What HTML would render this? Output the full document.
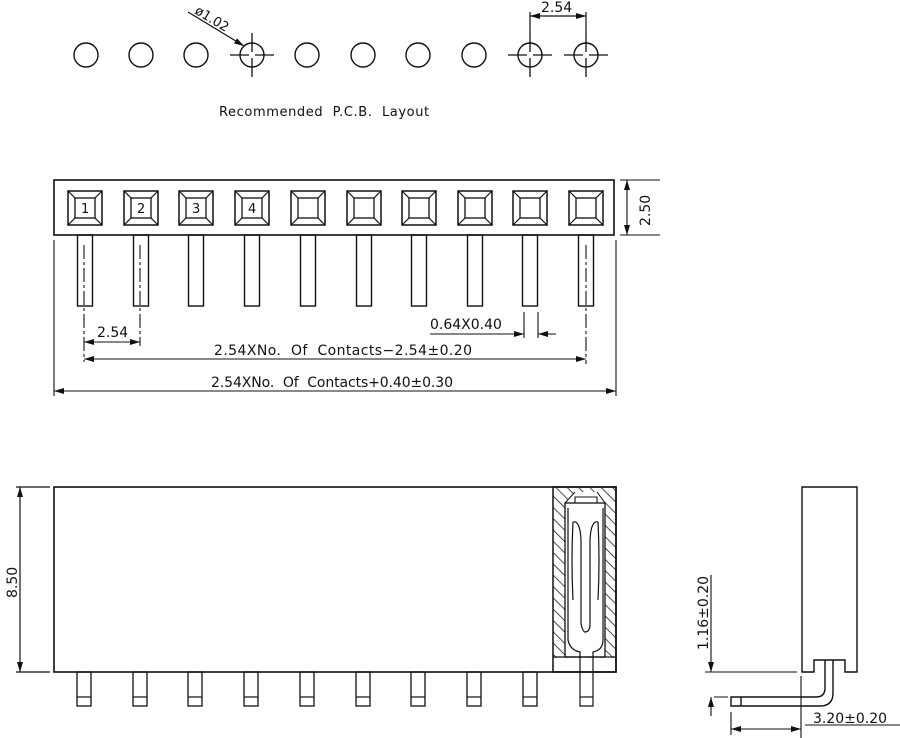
<!DOCTYPE html>
<html><head><style>
html,body{margin:0;padding:0;background:#fff;width:900px;height:738px;overflow:hidden}
svg{display:block}
text{font-family:"DejaVu Sans","Liberation Sans",sans-serif;fill:#111;white-space:pre}
</style></head><body>
<svg width="900" height="738" viewBox="0 0 900 738" xmlns="http://www.w3.org/2000/svg" xml:space="preserve">
<defs>
<pattern id="h" patternUnits="userSpaceOnUse" width="8" height="8" patternTransform="rotate(-45)">
<line x1="0" y1="0" x2="0" y2="8" stroke="#111" stroke-width="1.5"/>
</pattern>
<g id="pad">
<rect x="-17" y="-17" width="34" height="34" fill="none" stroke="#111" stroke-width="1.5"/>
<rect x="-10" y="-10" width="20" height="20" fill="none" stroke="#111" stroke-width="1.3"/>
<path d="M-17 -17L-10 -10M17 -17L10 -10M-17 17L-10 10M17 17L10 10" stroke="#111" stroke-width="1.2"/>
</g>
<g id="pin"><rect x="-7.5" y="235" width="15" height="71" fill="none" stroke="#111" stroke-width="1.4"/></g>
<g id="bpin"><rect x="-7" y="672" width="14" height="34" fill="none" stroke="#111" stroke-width="1.3"/><line x1="-7" x2="7" y1="697" y2="697" stroke="#111" stroke-width="1.2"/></g>
<g id="cross"><circle r="12" fill="none" stroke="#111" stroke-width="1.4"/><path d="M-22 0H-3M3 0H22M0 -22V-3M0 3V22" stroke="#111" stroke-width="1.3"/></g>
<marker id="a" markerWidth="10" markerHeight="6" refX="10" refY="3" orient="auto-start-reverse" markerUnits="userSpaceOnUse"><path d="M0 0L10 3L0 6Z" fill="#111"/></marker>
</defs>

<!-- PCB layout -->
<g fill="none" stroke="#111" stroke-width="1.4">
<circle cx="86" cy="55" r="12"/><circle cx="141" cy="55" r="12"/><circle cx="196" cy="55" r="12"/>
<circle cx="307" cy="55" r="12"/><circle cx="363" cy="55" r="12"/><circle cx="418" cy="55" r="12"/><circle cx="474" cy="55" r="12"/>
</g>
<use href="#cross" x="252" y="55"/><use href="#cross" x="530" y="55"/><use href="#cross" x="586" y="55"/>
<line x1="188" y1="12" x2="244" y2="46" stroke="#111" stroke-width="1.2" marker-end="url(#a)"/>
<text x="194" y="13" font-size="13" transform="rotate(31 194 13)">ø1.02</text>
<path d="M530 12V33M586 12V33" stroke="#111" stroke-width="1.2"/>
<line x1="530" y1="16" x2="586" y2="16" stroke="#111" stroke-width="1.2" marker-start="url(#a)" marker-end="url(#a)"/>
<text x="541" y="12" font-size="14">2.54</text>
<text x="219" y="116" font-size="13" letter-spacing="0.6">Recommended  P.C.B.  Layout</text>

<!-- top view -->
<rect x="54" y="180" width="560" height="55" fill="none" stroke="#111" stroke-width="1.6"/>
<use href="#pad" x="85" y="208"/><use href="#pad" x="141" y="208"/><use href="#pad" x="196" y="208"/><use href="#pad" x="252" y="208"/><use href="#pad" x="308" y="208"/><use href="#pad" x="364" y="208"/><use href="#pad" x="419" y="208"/><use href="#pad" x="475" y="208"/><use href="#pad" x="530" y="208"/><use href="#pad" x="586" y="208"/>
<g font-size="13"><text x="81" y="213">1</text><text x="137" y="213">2</text><text x="192" y="213">3</text><text x="248" y="213">4</text></g>
<use href="#pin" x="85"/><use href="#pin" x="141"/><use href="#pin" x="196"/><use href="#pin" x="252"/><use href="#pin" x="308"/><use href="#pin" x="364"/><use href="#pin" x="419"/><use href="#pin" x="475"/><use href="#pin" x="530"/><use href="#pin" x="586"/>
<g stroke="#111" stroke-width="1.1">
<path d="M84 245V362M140 245V346M586 245V364" stroke-dasharray="14 3 3 3"/>
<path d="M524 312V338M538 312V338M620 180H660M620 235H660M54 240V396M616 240V396"/>
<line x1="84" y1="342" x2="140" y2="342" marker-start="url(#a)" marker-end="url(#a)"/>
<line x1="430" y1="334" x2="524" y2="334" marker-end="url(#a)"/>
<line x1="556" y1="334" x2="538" y2="334" marker-end="url(#a)"/>
<line x1="84" y1="359" x2="586" y2="359" marker-start="url(#a)" marker-end="url(#a)"/>
<line x1="54" y1="391" x2="616" y2="391" marker-start="url(#a)" marker-end="url(#a)"/>
<line x1="627" y1="180" x2="627" y2="235" marker-start="url(#a)" marker-end="url(#a)"/>
</g>
<g font-size="14">
<text x="97" y="337">2.54</text>
<text x="430" y="329">0.64X0.40</text>
<text x="214" y="355" textLength="258">2.54XNo.  Of  Contacts−2.54±0.20</text>
<text x="211" y="387" textLength="242">2.54XNo.  Of  Contacts+0.40±0.30</text>
<text x="0" y="0" transform="translate(650 226) rotate(-90)">2.50</text>
</g>

<!-- front view -->
<rect x="54" y="487" width="562" height="185" fill="none" stroke="#111" stroke-width="1.6"/>
<use href="#bpin" x="84"/><use href="#bpin" x="140"/><use href="#bpin" x="195"/><use href="#bpin" x="251"/><use href="#bpin" x="307"/><use href="#bpin" x="363"/><use href="#bpin" x="418"/><use href="#bpin" x="474"/><use href="#bpin" x="530"/>
<g stroke="#111" stroke-width="1.2">
<path d="M16 487H50M16 672H50"/>
<line x1="20" y1="487" x2="20" y2="672" marker-start="url(#a)" marker-end="url(#a)"/>
</g>
<text font-size="14" transform="translate(17 598) rotate(-90)">8.50</text>
<!-- section -->
<path d="M553 487H616V672H553Z M565 503H605V657H565Z" fill="url(#h)" fill-rule="evenodd" stroke="none"/>
<path d="M565 503L575 492H597L605 503Z" fill="#fff" stroke="none"/>
<path d="M575 497H597V503H575Z" fill="#fff" stroke="#111" stroke-width="1.1"/>
<path d="M565 503L575 492M605 503L597 492" stroke="#111" stroke-width="1"/>
<rect x="565" y="503" width="40" height="154" fill="#fff" stroke="#111" stroke-width="1.3"/>
<rect x="554" y="658" width="61" height="13" fill="#fff"/>
<rect x="553" y="487" width="63" height="185" fill="none" stroke="#111" stroke-width="1.5"/>
<line x1="553" y1="657" x2="616" y2="657" stroke="#111" stroke-width="1.2"/>
<g fill="none" stroke="#111" stroke-width="1.2">
<path d="M568 508V640Q570 650 580 652V706H593V652Q603 650 603 640V508"/>
<path d="M573 522Q580 520 581 540V624Q583 632 585 632Q590 632 590 624V540Q591 520 598 522"/>
<path d="M573 522Q571 560 573 600M598 522Q600 560 598 600"/>
<line x1="580" y1="697" x2="593" y2="697"/>
</g>

<!-- side view -->
<g fill="none" stroke="#111" stroke-width="1.4">
<path d="M802 487H857V672H845V660H814V672H802Z"/>
<path d="M825 660V688Q825 697 816 697H731V706H820Q833 706 833 693V660"/>
<line x1="741" y1="697" x2="741" y2="706"/>
</g>
<g stroke="#111" stroke-width="1.1">
<path d="M705 672H797M714 697H728M731 712V735M801 676V738M805 725H900"/>
<line x1="711" y1="575" x2="711" y2="672" marker-end="url(#a)"/>
<line x1="711" y1="716" x2="711" y2="697" marker-end="url(#a)"/>
<line x1="731" y1="729" x2="801" y2="729" marker-start="url(#a)" marker-end="url(#a)"/>
</g>
<text font-size="14" transform="translate(708 650) rotate(-90)">1.16±0.20</text>
<text x="813" y="723" font-size="14">3.20±0.20</text>
</svg>
</body></html>
